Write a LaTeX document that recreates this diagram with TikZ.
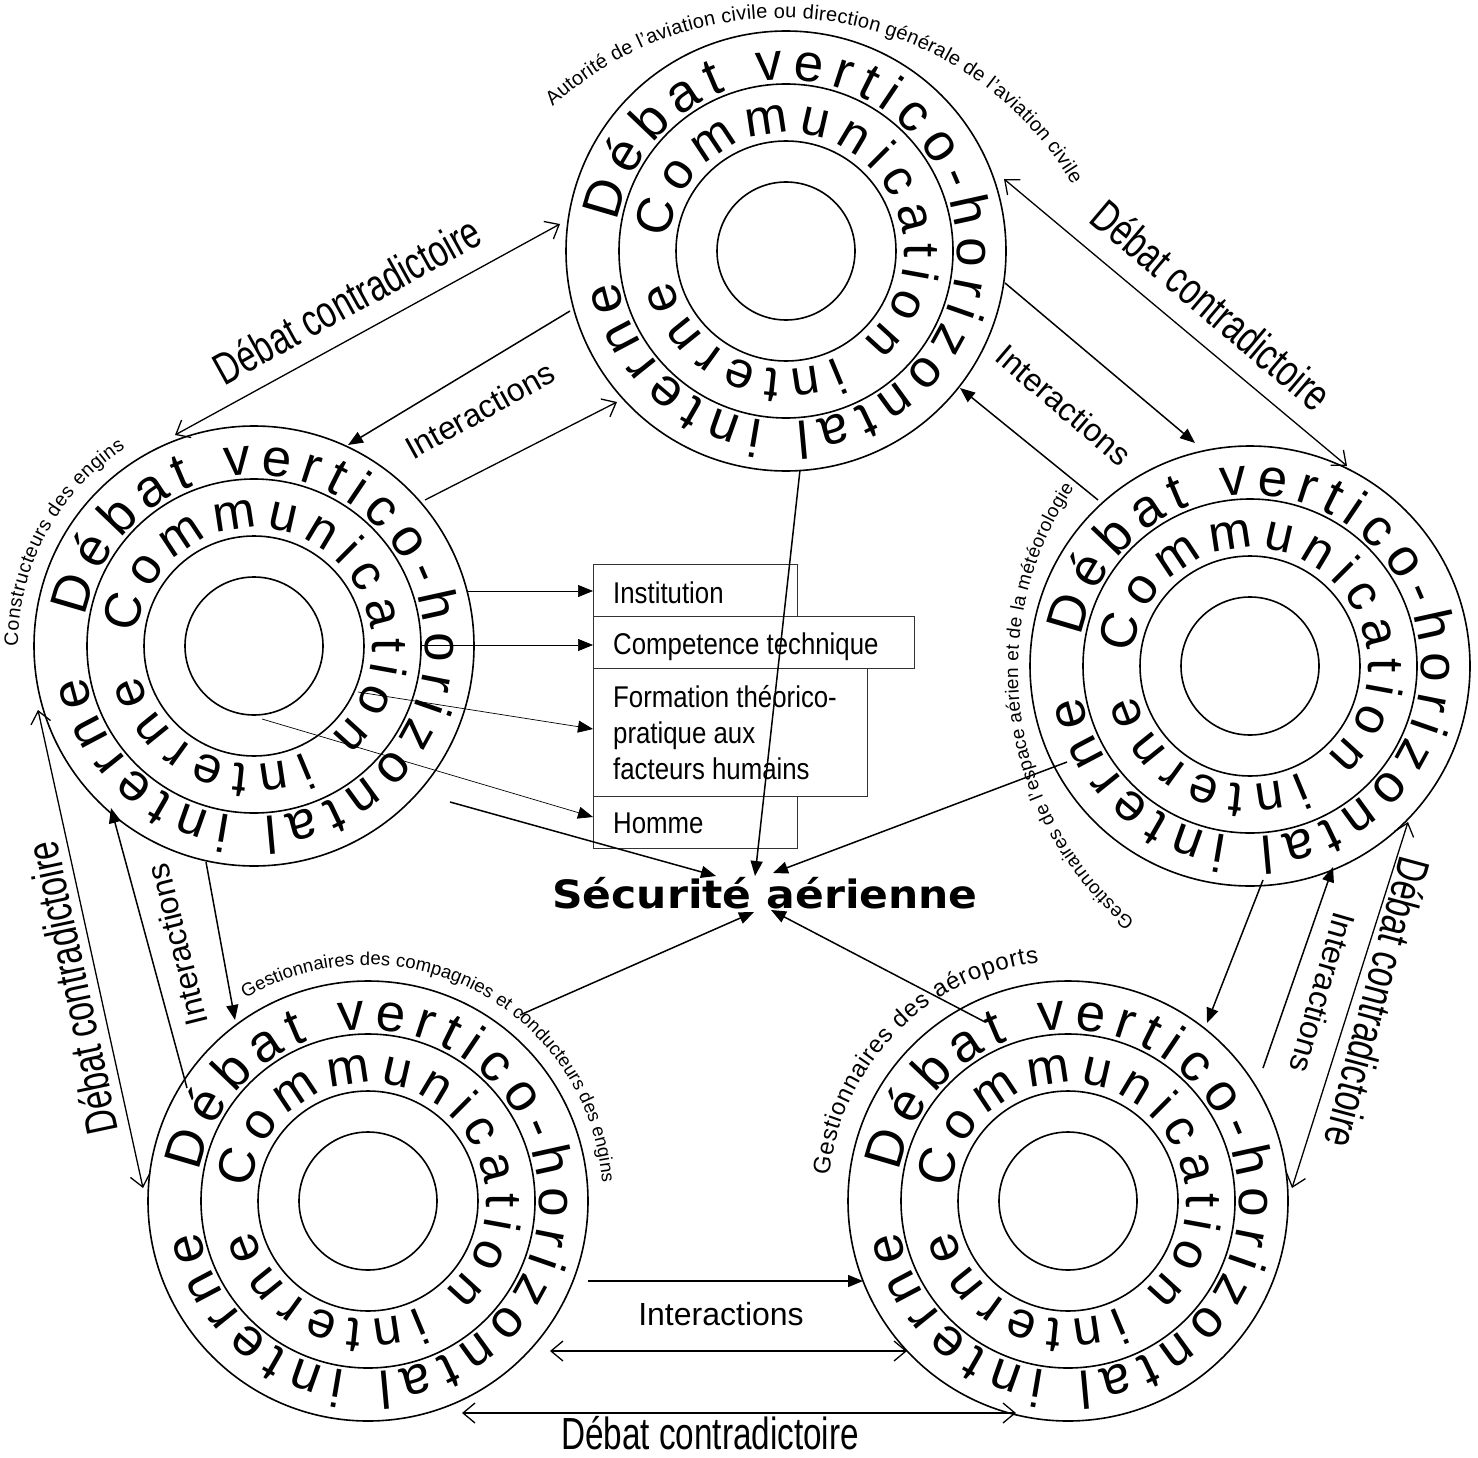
\documentclass[tikz,border=0pt]{standalone}
\usepackage{fontspec}
\setmainfont{Liberation Sans}
\newfontfamily\narrowfont[FakeStretch=0.74]{Liberation Sans}
\newfontfamily\boxfont[FakeStretch=0.86]{Liberation Sans}
\newfontfamily\heavyfont[FakeStretch=1.09]{DejaVu Sans}
\usetikzlibrary{decorations.text,arrows.meta}
\newcommand\ringfontA{\fontsize{53}{60}\selectfont}
\newcommand\ringfontB{\fontsize{51}{60}\selectfont}
\newcommand\cgroup[3]{%
  \node[ring] (#1) at (#2,#3) {};
  \draw[ringline] (#2,#3) circle[radius=167];
  \draw[ringline] (#2,#3) circle[radius=110];
  \draw[ringline] (#2,#3) circle[radius=69];
  \path[decorate,decoration={text along path,text align={fit to path},
    text={|\ringfontA|Débat vertico-horizontal interne}}]
    (#2,#3) ++(190:171) arc[start angle=190,end angle=530,radius=171];
  \path[decorate,decoration={text along path,text align={fit to path},
    text={|\ringfontB|Communication interne}}]
    (#2,#3) ++(186:118) arc[start angle=186,end angle=526,radius=118];
}
\newcommand\arclabel[6]{% cx cy r start end text(with font)
  \path[decorate,decoration={text along path,text align={fit to path},text={#6}}]
    (#1,#2) ++(#4:#3) arc[start angle=#4,end angle=#5,radius=#3];
}
\begin{document}
\begin{tikzpicture}[x=1pt,y=-1pt,
  ring/.style={draw,circle,inner sep=0pt,minimum size=440pt,line width=1.6pt},
  ringline/.style={line width=1.6pt},
  fa/.style={line width=1.5pt,-{Triangle[length=15pt,width=12pt]}},
  oa/.style={line width=1.3pt,-{Straight Barb[length=12pt,width=20pt]}},
  da/.style={line width=1.3pt,{Straight Barb[length=12pt,width=20pt]}-{Straight Barb[length=12pt,width=20pt]}},
  ta/.style={line width=0.7pt,-{Triangle[length=15pt,width=12pt]}},
  box/.style={draw=black!80,line width=1pt,anchor=north west,inner sep=0pt},
  btext/.style={anchor=base west,inner sep=0pt,font=\boxfont\fontsize{30}{36}\selectfont},
  dc/.style={font=\narrowfont\fontsize{45}{50}\selectfont,inner sep=0pt},
  it/.style={font=\fontsize{32}{38}\selectfont,inner sep=0pt}]
\useasboundingbox (0,0) rectangle (1478,1458);
\fill[white] (0,0) rectangle (1478,1458);

% circle groups
\cgroup{T}{786}{251}
\cgroup{L}{254}{646}
\cgroup{R}{1250}{666}
\cgroup{BL}{368}{1201}
\cgroup{BR}{1068}{1201}

% labels along arcs
\arclabel{781}{356}{338}{227.5}{329.5}{|\fontsize{20}{24}\selectfont|Autorité de l'aviation civile ou direction générale de l'aviation civile}
\arclabel{254}{646}{236}{180}{237}{|\fontsize{19.5}{23}\selectfont|Constructeurs des engins}
\arclabel{1345}{671}{327}{130}{214}{|\fontsize{19}{23}\selectfont|Gestionnaires de l'espace aérien et de la météorologie}
\arclabel{367}{1201}{236}{239}{355.5}{|\fontsize{18.5}{22}\selectfont|Gestionnaires des compagnies et conducteurs des engins}
\arclabel{1068}{1201}{240}{186}{263}{|\fontsize{24}{28}\selectfont|Gestionnaires des aéroports}

% boxes
\node[box,minimum width=204pt,minimum height=52pt] (inst) at (593,564) {};
\node[box,minimum width=321pt,minimum height=52pt] (comp) at (593,616) {};
\node[box,minimum width=274pt,minimum height=128pt] (form) at (593,668) {};
\node[box,minimum width=204pt,minimum height=52pt] (homm) at (593,796) {};
\node[btext] (tinst) at (613,603) {Institution};
\node[btext] (tcomp) at (613,654) {Competence technique};
\node[btext] (tform1) at (613,707) {Formation théorico-};
\node[btext] (tform2) at (613,743) {pratique aux};
\node[btext] (tform3) at (613,779) {facteurs humains};
\node[btext] (thomm) at (613,833) {Homme};

% arrows to boxes
\coordinate (x1) at (468,591); \coordinate (y1) at (593,591);
\coordinate (x2) at (421,645); \coordinate (y2) at (593,645);
\coordinate (x3) at (358,692); \coordinate (y3) at (593,729);
\coordinate (x4) at (262,719); \coordinate (y4) at (593,817);
\draw[ta] (x1) -- (y1);
\draw[ta] (x2) -- (y2);
\draw[ta] (x3) -- (y3);
\draw[ta] (x4) -- (y4);

% central text
\node[anchor=base,inner sep=0pt] (secu) at (765,908) {\heavyfont\bfseries\fontsize{39}{44}\selectfont Sécurité aérienne};

% arrows to securite
\coordinate (sT) at (800,470);  \coordinate (sTt) at (755,876);
\coordinate (sL) at (450,802);  \coordinate (sLt) at (716,876);
\coordinate (sR) at (1067,762); \coordinate (sRt) at (773,873);
\coordinate (sBL) at (520,1015); \coordinate (sBLt) at (754,912);
\coordinate (sBR) at (985,1022); \coordinate (sBRt) at (771,910);
\draw[fa] (sT) -- (sTt);
\draw[fa] (sL) -- (sLt);
\draw[fa] (sR) -- (sRt);
\draw[fa] (sBL) -- (sBLt);
\draw[fa] (sBR) -- (sBRt);

% top - left
\coordinate (tlA) at (175,435); \coordinate (tlB) at (560,224);
\coordinate (tlC) at (570,311); \coordinate (tlD) at (348,445);
\coordinate (tlE) at (425,500); \coordinate (tlF) at (617,402);
\draw[da] (tlA) -- (tlB);
\draw[fa] (tlC) -- (tlD);
\draw[oa] (tlE) -- (tlF);
\node[dc,rotate=29] (dc1) at (347,300) {Débat contradictoire};
\node[it,rotate=29] (it1) at (480,410) {Interactions};

% top - right
\coordinate (trA) at (1004,179); \coordinate (trB) at (1347,466);
\coordinate (trC) at (1005,283); \coordinate (trD) at (1195,443);
\coordinate (trE) at (1098,500); \coordinate (trF) at (960,388);
\draw[da] (trA) -- (trB);
\draw[fa] (trC) -- (trD);
\draw[fa] (trE) -- (trF);
\node[dc,rotate=-40.3] (dc2) at (1212,305) {Débat contradictoire};
\node[it,rotate=-40.5] (it2) at (1064,405) {Interactions};

% left - bottom left
\coordinate (lA) at (38,710); \coordinate (lB) at (143,1188);
\coordinate (lC) at (187,1088); \coordinate (lD) at (111,808);
\coordinate (lE) at (206,862); \coordinate (lF) at (235,1020);
\draw[da] (lA) -- (lB);
\draw[fa] (lC) -- (lD);
\draw[fa] (lE) -- (lF);
\node[dc,rotate=102] (dc3) at (72,988) {Débat contradictoire};
\node[it,rotate=104] (it3) at (177,945) {Interactions};

% right - bottom right
\coordinate (rA) at (1408,822); \coordinate (rB) at (1292,1188);
\coordinate (rC) at (1263,880); \coordinate (rD) at (1207,1023);
\coordinate (rE) at (1263,1068); \coordinate (rF) at (1333,867);
\draw[da] (rA) -- (rB);
\draw[fa] (rC) -- (rD);
\draw[fa] (rE) -- (rF);
\node[dc,rotate=-105] (dc4) at (1378,1003) {Débat contradictoire};
\node[it,rotate=-106] (it4) at (1323,993) {Interactions};

% bottom left - bottom right
\coordinate (bA) at (588,1281); \coordinate (bB) at (863,1281);
\coordinate (bC) at (550,1351); \coordinate (bD) at (907,1351);
\coordinate (bE) at (462,1413); \coordinate (bF) at (1016,1413);
\draw[fa] (bA) -- (bB);
\draw[da] (bC) -- (bD);
\draw[da] (bE) -- (bF);
\node[it] (it5) at (721,1314) {Interactions};
\node[dc,anchor=base] (dc5) at (710,1449) {Débat contradictoire};
\end{tikzpicture}
\end{document}
